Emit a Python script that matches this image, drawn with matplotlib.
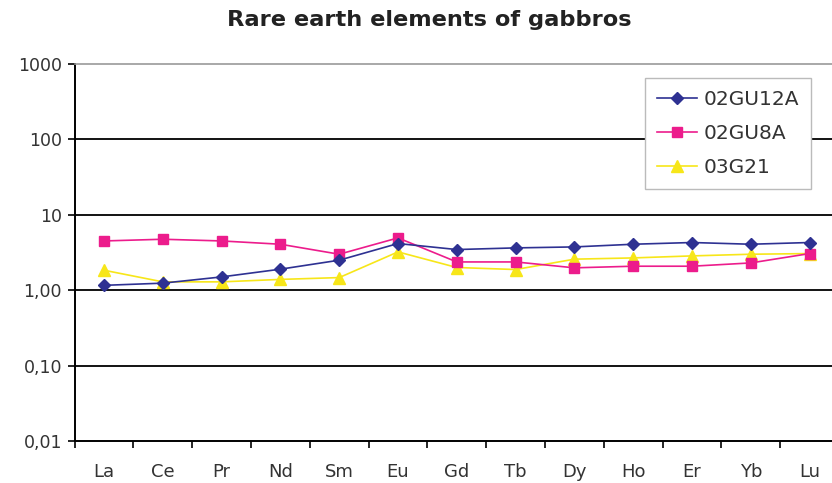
import matplotlib
matplotlib.use("Agg")
import matplotlib.pyplot as plt
from matplotlib.ticker import FixedLocator, NullFormatter

elements = ["La", "Ce", "Pr", "Nd", "Sm", "Eu", "Gd", "Tb", "Dy", "Ho", "Er", "Yb", "Lu"]
s_02GU12A = [1.16, 1.24, 1.50, 1.90, 2.50, 4.16, 3.46, 3.64, 3.75, 4.07, 4.29, 4.07, 4.29]
s_02GU8A = [4.50, 4.74, 4.50, 4.07, 3.00, 4.94, 2.37, 2.37, 1.98, 2.08, 2.08, 2.30, 3.06]
s_03G21 = [1.84, 1.29, 1.29, 1.39, 1.47, 3.22, 2.00, 1.88, 2.58, 2.68, 2.85, 3.00, 3.06]
ytick_vals = [0.01, 0.1, 1, 10, 100, 1000]
ytick_labels = ["0,01", "0,10", "1,00", "10", "100", "1000"]

plt.rcParams['font.family'] = ['DejaVu Sans']

W, H = 832, 483
fig = plt.figure(figsize=(W / 100, H / 100), dpi=100)
left_px, right_px, top_px, bot_px = 74.6, 839.0, 64.0, 441.0
ax = fig.add_axes([left_px / W, 1 - bot_px / H, (right_px - left_px) / W, (bot_px - top_px) / H])

x = list(range(len(elements)))
ax.plot(x, s_02GU12A, color="#2e3192", marker="D", markersize=6.5, lw=1.2, label="02GU12A", zorder=5)
ax.plot(x, s_02GU8A, color="#ec1c8c", marker="s", markersize=7.5, lw=1.2, label="02GU8A", zorder=4)
ax.plot(x, s_03G21, color="#f7e619", marker="^", markersize=8, lw=1.2, label="03G21", zorder=3)

ax.set_yscale("log")
ax.set_ylim(0.01, 1000)
ax.set_xlim(-0.5, len(elements) - 0.5)

ax.yaxis.set_major_locator(FixedLocator(ytick_vals))
ax.set_yticks(ytick_vals)
ax.set_yticklabels(ytick_labels)
ax.yaxis.set_minor_locator(FixedLocator([]))
ax.tick_params(axis="y", which="major", direction="out", length=5, width=1.2, color="black",
               labelsize=12.5, labelcolor="#333333", pad=4)

for v in [0.1, 1, 10, 100]:
    ax.axhline(v, color="black", lw=1.3, zorder=1)

ax.set_xticks(x)
ax.set_xticklabels(elements)
ax.tick_params(axis="x", which="major", length=0, labelsize=13, labelcolor="#333333", pad=16)
ax.set_xticks([i + 0.5 for i in range(-1, len(elements))], minor=True)
ax.tick_params(axis="x", which="minor", direction="out", length=5, width=1.2, color="black")
ax.xaxis.set_minor_formatter(NullFormatter())

for s in ["left", "bottom"]:
    ax.spines[s].set_color("black")
    ax.spines[s].set_linewidth(1.4)
ax.spines["top"].set_color("#999999")
ax.spines["top"].set_linewidth(1.2)
ax.spines["right"].set_visible(False)

leg = ax.legend(loc="upper left", bbox_to_anchor=((645 - left_px) / (right_px - left_px), 1 - (78 - top_px) / (bot_px - top_px)),
                fontsize=14.5, frameon=True, fancybox=False, edgecolor="#bbbbbb", framealpha=1,
                borderpad=0.6, labelspacing=0.75, handlelength=2.0, handletextpad=0.3, borderaxespad=0)
leg.get_frame().set_linewidth(1.0)
for t in leg.get_texts():
    t.set_color("#333333")

fig.text(429 / W, 1 - 20 / H, "Rare earth elements of gabbros", ha="center", va="center",
         fontsize=16.2, fontweight="bold", color="#222222")

fig.savefig("out.png", dpi=100)
